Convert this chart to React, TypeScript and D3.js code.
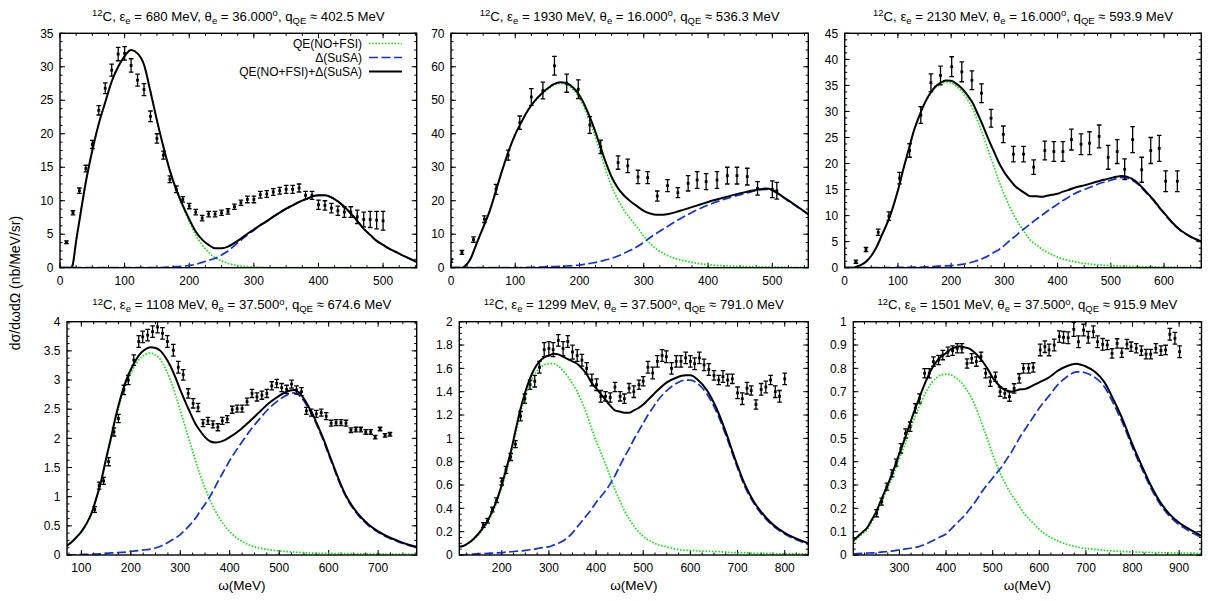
import React from 'react';
import * as d3 from 'd3';

// ---------- Titles ----------
const TITLE_E = ['680', '1930', '2130', '1108', '1299', '1501'];
const TITLE_THETA = ['36.000', '16.000', '16.000', '37.500', '37.500', '37.500'];
const TITLE_Q = ['402.5', '536.3', '593.9', '674.6', '791.0', '915.9'];
const LEGEND_LABELS = ['QE(NO+FSI)', 'Δ(SuSA)', 'QE(NO+FSI)+Δ(SuSA)'];
const Y_LABEL = 'dσ/dωdΩ (nb/MeV/sr)';
const X_LABEL = 'ω(MeV)';

// ---------- Panel 1 ----------
const P1_GRID = [0, 10, 18, 20, 25, 30, 40, 50, 60, 70, 80, 90, 100, 110, 120, 130, 140, 150, 160, 170, 180, 190, 200, 210, 220, 230, 240, 250, 260, 270, 280, 290, 300, 310, 320, 330, 340, 350, 360, 370, 380, 390, 400, 410, 420, 430, 440, 450, 460, 470, 480, 490, 500, 510, 520, 530, 540, 552];
const P1_QE = [0, 0, 0, 0.6, 4.0, 7.0, 12.8, 17.5, 21.5, 24.7, 27.8, 30.0, 31.6, 32.5, 32.0, 30.3, 26.3, 22.0, 18.0, 14.4, 11.5, 9.1, 6.9, 4.9, 3.4, 2.3, 1.5, 1.0, 0.65, 0.4, 0.25, 0.17, 0.1, 0.07, 0.05, 0.03, 0.02, 0.02, 0.01, 0.01, 0.01, 0.01, 0.01, 0, 0, 0, 0, 0, 0, 0, 0, 0, 0, 0, 0, 0, 0, 0];
const P1_DELTA = [0, 0, 0, 0, 0, 0, 0, 0, 0, 0, 0, 0, 0, 0, 0, 0, 0, 0, 0.05, 0.1, 0.15, 0.2, 0.35, 0.5, 0.8, 1.1, 1.4, 1.9, 2.5, 3.3, 4.1, 4.9, 5.6, 6.3, 6.9, 7.6, 8.2, 8.8, 9.3, 9.8, 10.2, 10.6, 10.8, 10.8, 10.5, 9.9, 9.1, 8.1, 7.0, 5.8, 4.9, 4.0, 3.4, 2.8, 2.35, 1.85, 1.4, 0.85];
const P1_DATA_W = [10, 20, 30, 40, 50, 60, 70, 80, 90, 100, 110, 120, 130, 140, 150, 160, 170, 180, 190, 200, 210, 220, 230, 240, 250, 260, 270, 280, 290, 300, 310, 320, 330, 340, 350, 360, 370, 380, 390, 400, 410, 420, 430, 440, 450, 460, 470, 480, 490, 500];
const P1_DATA_V = [3.8, 8.2, 11.5, 14.8, 18.4, 23.5, 26.8, 29.5, 31.9, 32.0, 30.2, 28.0, 26.6, 22.6, 19.3, 16.8, 13.2, 11.7, 10.2, 9.2, 8.3, 7.4, 8.0, 8.0, 8.2, 8.4, 9.1, 9.7, 10.2, 10.2, 10.9, 11.0, 11.3, 11.5, 11.7, 11.7, 11.9, 10.8, 10.8, 9.4, 9.3, 8.9, 8.5, 8.3, 8.3, 7.6, 7.2, 7.2, 7.1, 7.0];
const P1_DATA_E = [0.2, 0.3, 0.4, 0.5, 0.6, 0.7, 0.8, 0.9, 1.0, 1.0, 1.0, 0.9, 0.9, 0.8, 0.7, 0.6, 0.5, 0.5, 0.4, 0.4, 0.4, 0.4, 0.4, 0.4, 0.4, 0.4, 0.4, 0.4, 0.5, 0.5, 0.5, 0.5, 0.5, 0.5, 0.6, 0.6, 0.6, 0.6, 0.6, 0.7, 0.7, 0.7, 0.7, 0.8, 0.8, 1.0, 1.1, 1.2, 1.3, 1.4];

// ---------- Panel 2 ----------
const P2_GRID = [0, 10, 18, 20, 30, 40, 50, 60, 70, 80, 90, 100, 110, 120, 130, 140, 150, 160, 170, 180, 190, 200, 210, 220, 230, 240, 250, 260, 270, 280, 290, 300, 310, 320, 330, 340, 350, 360, 370, 380, 390, 400, 420, 440, 460, 480, 490, 500, 510, 520, 530, 540, 556];
const P2_QE = [0, 0, 0, 0.2, 2.5, 7.3, 12.0, 16.8, 23.0, 29.3, 35.0, 39.8, 43.6, 47.0, 49.6, 51.6, 53.2, 54.5, 55.0, 54.6, 53.2, 50.6, 46.6, 41.6, 35.8, 29.6, 24.3, 20.2, 17.0, 14.4, 12.0, 9.4, 7.2, 5.5, 4.3, 3.4, 2.7, 2.2, 1.8, 1.4, 1.1, 0.9, 0.6, 0.45, 0.35, 0.25, 0.22, 0.2, 0.17, 0.15, 0.13, 0.12, 0.1];
const P2_DELTA = [0, 0, 0, 0, 0, 0, 0, 0, 0, 0, 0, 0, 0.05, 0.1, 0.15, 0.2, 0.3, 0.35, 0.4, 0.5, 0.6, 0.8, 1.1, 1.4, 1.8, 2.3, 2.8, 3.5, 4.4, 5.3, 6.3, 7.6, 9.0, 10.3, 11.5, 12.7, 13.9, 15.0, 16.0, 17.0, 17.9, 18.7, 20.1, 21.3, 22.3, 23.2, 23.4, 23.0, 21.9, 20.6, 19.3, 18.0, 15.9];
const P2_DATA_W = [0, 17, 35, 52, 70, 89, 107, 125, 143, 161, 180, 198, 216, 233, 260, 275, 291, 306, 321, 337, 353, 369, 383, 397, 414, 430, 445, 461, 477, 500, 507];
const P2_DATA_V = [2.1, 4.6, 8.4, 14.5, 23.4, 33.6, 43.3, 51.0, 52.9, 60.3, 55.1, 53.3, 42.6, 36.1, 31.4, 30.4, 27.1, 26.9, 21.4, 24.5, 22.4, 25.2, 26.2, 25.7, 26.2, 27.5, 27.5, 27.2, 23.7, 23.4, 23.0];
const P2_DATA_E = [0.5, 0.6, 0.8, 1.0, 1.5, 1.5, 2.0, 2.5, 2.5, 2.8, 2.7, 2.8, 2.5, 2.0, 2.0, 2.0, 2.0, 1.8, 1.5, 1.8, 1.5, 2.3, 2.5, 2.4, 2.5, 2.5, 2.5, 2.5, 2.0, 2.5, 2.5];

// ---------- Panel 3 ----------
const P3_GRID = [0, 10, 17, 20, 30, 40, 50, 60, 70, 80, 90, 100, 110, 120, 130, 140, 150, 160, 170, 180, 190, 200, 210, 220, 230, 240, 250, 260, 270, 280, 290, 300, 310, 320, 330, 340, 350, 360, 370, 380, 390, 400, 410, 420, 430, 440, 450, 460, 470, 480, 490, 500, 510, 520, 530, 540, 550, 560, 570, 580, 590, 600, 610, 620, 630, 640, 650, 660, 670];
const P3_QE = [0, 0, 0, 0.1, 0.5, 1.15, 2.3, 4.0, 6.3, 8.6, 11.4, 14.8, 18.8, 22.5, 26.2, 29.0, 31.4, 33.2, 34.5, 35.2, 35.6, 35.5, 34.8, 33.8, 32.4, 30.6, 28.1, 25.4, 22.4, 19.5, 16.6, 14.0, 11.7, 9.7, 8.0, 6.5, 5.2, 4.4, 3.6, 3.0, 2.5, 2.0, 1.7, 1.4, 1.2, 1.0, 0.8, 0.7, 0.6, 0.5, 0.45, 0.4, 0.35, 0.3, 0.28, 0.25, 0.22, 0.2, 0.18, 0.15, 0.13, 0.12, 0.1, 0.09, 0.08, 0.07, 0.07, 0.06, 0.06];
const P3_DELTA = [0, 0, 0, 0, 0, 0, 0, 0, 0, 0, 0, 0.05, 0.07, 0.08, 0.1, 0.12, 0.15, 0.2, 0.25, 0.3, 0.35, 0.4, 0.5, 0.65, 0.8, 1.1, 1.4, 1.8, 2.3, 2.9, 3.5, 4.3, 5.2, 6.0, 6.9, 7.7, 8.5, 9.3, 10.0, 10.8, 11.5, 12.2, 12.9, 13.5, 14.1, 14.6, 15.0, 15.4, 15.8, 16.2, 16.5, 16.8, 17.1, 17.3, 17.2, 16.8, 16.1, 15.1, 14.0, 12.9, 11.6, 10.4, 9.2, 8.1, 7.2, 6.5, 5.9, 5.4, 5.0];
const P3_DATA_W = [21, 40, 63, 83, 103, 122, 143, 162, 180, 201, 220, 239, 257, 275, 298, 317, 336, 355, 376, 393, 410, 426, 444, 460, 478, 495, 512, 526, 541, 558, 575, 591, 603, 625];
const P3_DATA_V = [1.15, 3.5, 6.8, 9.9, 17.2, 22.5, 29.3, 35.5, 36.9, 38.6, 37.6, 36.0, 33.5, 28.7, 25.6, 21.8, 21.8, 19.3, 22.5, 22.3, 22.3, 24.6, 23.7, 23.9, 25.2, 21.2, 22.3, 18.9, 24.6, 18.8, 22.5, 22.9, 16.6, 16.6];
const P3_DATA_E = [0.3, 0.4, 0.6, 0.8, 1.1, 1.3, 1.6, 1.7, 1.8, 1.9, 1.9, 1.8, 1.8, 1.7, 1.6, 1.5, 1.5, 1.4, 1.8, 1.9, 1.9, 2.0, 2.0, 2.2, 2.2, 2.3, 2.3, 2.0, 2.5, 2.4, 2.5, 2.5, 2.0, 2.0];

// ---------- Panel 4 ----------
const P4_GRID = [71, 80, 90, 100, 110, 120, 130, 140, 150, 160, 170, 180, 190, 200, 210, 220, 230, 240, 250, 260, 270, 280, 290, 300, 310, 320, 330, 340, 350, 360, 370, 380, 390, 400, 420, 440, 460, 480, 500, 520, 530, 540, 550, 560, 570, 580, 590, 600, 610, 620, 630, 640, 660, 680, 700, 720, 740, 760, 778];
const P4_QE = [0.16, 0.22, 0.30, 0.39, 0.52, 0.69, 0.95, 1.25, 1.62, 1.98, 2.35, 2.67, 2.93, 3.12, 3.27, 3.38, 3.44, 3.46, 3.43, 3.35, 3.2, 3.0, 2.76, 2.48, 2.2, 1.92, 1.64, 1.38, 1.15, 0.95, 0.77, 0.62, 0.5, 0.4, 0.26, 0.17, 0.12, 0.09, 0.07, 0.055, 0.05, 0.045, 0.04, 0.035, 0.033, 0.03, 0.03, 0.028, 0.026, 0.025, 0.024, 0.023, 0.02, 0.018, 0.015, 0.013, 0.012, 0.011, 0.01];
const P4_DELTA = [0, 0, 0.005, 0.01, 0.012, 0.014, 0.016, 0.02, 0.03, 0.035, 0.04, 0.045, 0.05, 0.06, 0.07, 0.08, 0.09, 0.1, 0.12, 0.15, 0.19, 0.24, 0.29, 0.35, 0.43, 0.52, 0.62, 0.75, 0.87, 1.0, 1.16, 1.32, 1.47, 1.62, 1.88, 2.12, 2.33, 2.52, 2.66, 2.76, 2.78, 2.74, 2.64, 2.5, 2.34, 2.15, 1.95, 1.72, 1.5, 1.28, 1.08, 0.92, 0.68, 0.51, 0.39, 0.3, 0.23, 0.17, 0.13];
const P4_DATA_W = [127, 136, 145, 155, 166, 175, 186, 195, 206, 216, 224, 234, 244, 254, 264, 274, 286, 296, 306, 316, 326, 336, 346, 356, 366, 376, 385, 395, 405, 415, 425, 435, 445, 455, 465, 475, 485, 495, 505, 515, 525, 535, 545, 555, 565, 575, 585, 595, 605, 615, 625, 635, 645, 655, 665, 675, 685, 694, 704, 714, 724];
const P4_DATA_V = [0.78, 1.19, 1.27, 1.6, 2.11, 2.34, 2.83, 3.0, 3.34, 3.66, 3.74, 3.77, 3.83, 3.91, 3.8, 3.66, 3.51, 3.22, 3.09, 2.77, 2.6, 2.53, 2.26, 2.3, 2.24, 2.19, 2.3, 2.33, 2.49, 2.51, 2.51, 2.63, 2.77, 2.71, 2.74, 2.77, 2.9, 2.94, 2.87, 2.84, 2.93, 2.83, 2.8, 2.47, 2.44, 2.42, 2.44, 2.38, 2.26, 2.27, 2.27, 2.26, 2.14, 2.15, 2.15, 2.11, 2.11, 2.02, 2.16, 2.05, 2.07];
const P4_DATA_E = [0.05, 0.06, 0.06, 0.07, 0.07, 0.07, 0.08, 0.08, 0.09, 0.1, 0.1, 0.1, 0.1, 0.1, 0.1, 0.1, 0.1, 0.1, 0.09, 0.08, 0.08, 0.07, 0.06, 0.06, 0.06, 0.06, 0.06, 0.06, 0.06, 0.06, 0.06, 0.06, 0.07, 0.07, 0.07, 0.07, 0.07, 0.07, 0.07, 0.07, 0.07, 0.07, 0.07, 0.06, 0.06, 0.06, 0.06, 0.06, 0.05, 0.05, 0.05, 0.05, 0.04, 0.04, 0.04, 0.04, 0.04, 0.03, 0.03, 0.03, 0.03];

// ---------- Panel 5 ----------
const P5_GRID = [110, 120, 130, 140, 150, 160, 170, 180, 190, 200, 210, 220, 230, 240, 250, 260, 270, 280, 290, 300, 310, 320, 330, 340, 350, 360, 370, 380, 390, 400, 410, 420, 430, 440, 450, 460, 470, 480, 490, 500, 510, 520, 530, 550, 570, 590, 600, 615, 635, 655, 675, 695, 715, 735, 755, 775, 800, 825, 850];
const P5_QE = [0.07, 0.08, 0.1, 0.13, 0.17, 0.22, 0.28, 0.36, 0.46, 0.58, 0.72, 0.87, 1.05, 1.22, 1.36, 1.47, 1.55, 1.6, 1.63, 1.64, 1.64, 1.62, 1.58, 1.53, 1.47, 1.4, 1.31, 1.21, 1.09, 0.98, 0.88, 0.78, 0.67, 0.56, 0.47, 0.38, 0.31, 0.25, 0.2, 0.16, 0.13, 0.11, 0.09, 0.07, 0.05, 0.04, 0.04, 0.035, 0.032, 0.03, 0.025, 0.02, 0.02, 0.015, 0.015, 0.012, 0.01, 0.01, 0.01];
const P5_DELTA = [0, 0, 0.005, 0.008, 0.01, 0.012, 0.014, 0.016, 0.018, 0.02, 0.025, 0.028, 0.032, 0.035, 0.04, 0.045, 0.05, 0.06, 0.065, 0.07, 0.085, 0.1, 0.12, 0.15, 0.19, 0.24, 0.29, 0.34, 0.39, 0.45, 0.5, 0.55, 0.61, 0.68, 0.76, 0.84, 0.91, 0.99, 1.06, 1.13, 1.2, 1.26, 1.32, 1.41, 1.47, 1.5, 1.5, 1.47, 1.38, 1.23, 1.03, 0.8, 0.59, 0.44, 0.33, 0.25, 0.18, 0.13, 0.09];
const P5_DATA_W = [161, 170, 180, 189, 200, 209, 219, 229, 240, 249, 260, 270, 280, 290, 300, 309, 320, 330, 340, 350, 360, 370, 380, 391, 401, 410, 420, 430, 440, 451, 460, 470, 480, 491, 500, 510, 520, 530, 540, 549, 560, 570, 580, 590, 600, 609, 619, 629, 639, 650, 660, 669, 679, 689, 700, 710, 720, 729, 739, 750, 760, 770, 780, 789, 800];
const P5_DATA_V = [0.257, 0.294, 0.39, 0.47, 0.63, 0.73, 0.84, 0.95, 1.19, 1.34, 1.46, 1.49, 1.61, 1.76, 1.77, 1.76, 1.84, 1.77, 1.83, 1.74, 1.71, 1.67, 1.6, 1.5, 1.46, 1.36, 1.36, 1.35, 1.44, 1.36, 1.34, 1.43, 1.4, 1.46, 1.49, 1.61, 1.56, 1.66, 1.71, 1.7, 1.6, 1.66, 1.66, 1.69, 1.66, 1.64, 1.69, 1.63, 1.59, 1.54, 1.5, 1.53, 1.5, 1.51, 1.39, 1.34, 1.43, 1.41, 1.29, 1.42, 1.44, 1.5, 1.4, 1.36, 1.51];
const P5_DATA_E = [0.02, 0.02, 0.02, 0.02, 0.03, 0.03, 0.03, 0.03, 0.04, 0.04, 0.04, 0.05, 0.05, 0.06, 0.06, 0.06, 0.05, 0.06, 0.05, 0.06, 0.05, 0.05, 0.05, 0.05, 0.05, 0.05, 0.04, 0.04, 0.04, 0.04, 0.04, 0.04, 0.05, 0.04, 0.04, 0.05, 0.05, 0.05, 0.05, 0.05, 0.05, 0.05, 0.05, 0.05, 0.05, 0.05, 0.05, 0.05, 0.05, 0.04, 0.04, 0.05, 0.05, 0.04, 0.05, 0.05, 0.05, 0.04, 0.04, 0.05, 0.05, 0.04, 0.05, 0.05, 0.05];

// ---------- Panel 6 ----------
const P6_GRID = [201, 210, 220, 230, 240, 250, 260, 270, 280, 290, 300, 310, 320, 330, 340, 350, 360, 370, 380, 390, 400, 410, 420, 430, 440, 450, 460, 470, 480, 490, 500, 510, 520, 530, 540, 550, 560, 570, 580, 590, 600, 620, 640, 660, 680, 690, 700, 720, 740, 760, 780, 800, 820, 840, 860, 880, 900, 920, 948];
const P6_QE = [0.057, 0.072, 0.09, 0.107, 0.14, 0.175, 0.22, 0.265, 0.31, 0.36, 0.415, 0.465, 0.52, 0.575, 0.625, 0.67, 0.71, 0.74, 0.76, 0.772, 0.775, 0.772, 0.76, 0.745, 0.72, 0.69, 0.65, 0.6, 0.545, 0.49, 0.43, 0.38, 0.335, 0.295, 0.26, 0.23, 0.2, 0.172, 0.15, 0.13, 0.11, 0.08, 0.06, 0.045, 0.035, 0.03, 0.028, 0.024, 0.02, 0.017, 0.015, 0.013, 0.012, 0.011, 0.01, 0.009, 0.008, 0.008, 0.007];
const P6_DELTA = [0.005, 0.006, 0.007, 0.008, 0.009, 0.01, 0.012, 0.014, 0.016, 0.019, 0.022, 0.025, 0.028, 0.031, 0.035, 0.042, 0.05, 0.06, 0.07, 0.08, 0.09, 0.11, 0.13, 0.15, 0.17, 0.195, 0.22, 0.25, 0.28, 0.305, 0.33, 0.355, 0.38, 0.41, 0.44, 0.475, 0.51, 0.54, 0.57, 0.6, 0.63, 0.68, 0.73, 0.765, 0.785, 0.785, 0.78, 0.76, 0.72, 0.645, 0.56, 0.46, 0.37, 0.285, 0.215, 0.165, 0.13, 0.105, 0.075];
const P6_DATA_W = [251, 262, 273, 284, 293, 303, 313, 323, 334, 343, 354, 364, 373, 384, 393, 404, 414, 424, 434, 445, 455, 465, 475, 485, 495, 506, 516, 526, 536, 546, 557, 566, 577, 587, 602, 612, 621, 632, 643, 652, 662, 674, 684, 695, 705, 716, 725, 736, 746, 756, 767, 777, 788, 797, 808, 819, 829, 839, 850, 861, 871, 880, 891, 901];
const P6_DATA_V = [0.179, 0.229, 0.293, 0.35, 0.396, 0.457, 0.521, 0.55, 0.629, 0.671, 0.779, 0.779, 0.829, 0.836, 0.857, 0.871, 0.876, 0.886, 0.886, 0.821, 0.843, 0.829, 0.85, 0.779, 0.743, 0.764, 0.7, 0.693, 0.679, 0.714, 0.757, 0.8, 0.8, 0.804, 0.879, 0.893, 0.879, 0.9, 0.936, 0.933, 0.931, 0.967, 0.914, 0.964, 0.933, 0.957, 0.914, 0.903, 0.9, 0.864, 0.907, 0.867, 0.904, 0.893, 0.886, 0.876, 0.861, 0.861, 0.886, 0.876, 0.879, 0.946, 0.929, 0.871];
const P6_DATA_E = [0.015, 0.015, 0.015, 0.015, 0.015, 0.02, 0.02, 0.02, 0.02, 0.02, 0.02, 0.02, 0.02, 0.02, 0.02, 0.02, 0.02, 0.02, 0.02, 0.02, 0.02, 0.02, 0.02, 0.02, 0.02, 0.02, 0.02, 0.02, 0.02, 0.02, 0.02, 0.02, 0.02, 0.02, 0.025, 0.025, 0.025, 0.025, 0.025, 0.025, 0.025, 0.03, 0.025, 0.025, 0.025, 0.025, 0.025, 0.025, 0.02, 0.02, 0.02, 0.02, 0.02, 0.02, 0.02, 0.02, 0.02, 0.02, 0.02, 0.02, 0.02, 0.025, 0.025, 0.025];

// ---------- Layout ----------
const TOP = { y0: 33.3, y1: 267.7 };
const BOT = { y0: 321.7, y1: 555 };

const PANELS = [
  { i: 0, x0: 60, x1: 416.7, ...TOP, xd: [0, 552], yd: [0, 35], xs: 100, ys: 5, grid: P1_GRID, qe: P1_QE, de: P1_DELTA, dw: P1_DATA_W, dv: P1_DATA_V, dE: P1_DATA_E },
  { i: 1, x0: 451, x1: 808.3, ...TOP, xd: [0, 556], yd: [0, 70], xs: 100, ys: 10, grid: P2_GRID, qe: P2_QE, de: P2_DELTA, dw: P2_DATA_W, dv: P2_DATA_V, dE: P2_DATA_E },
  { i: 2, x0: 844.7, x1: 1201.3, ...TOP, xd: [0, 670], yd: [0, 45], xs: 100, ys: 5, grid: P3_GRID, qe: P3_QE, de: P3_DELTA, dw: P3_DATA_W, dv: P3_DATA_V, dE: P3_DATA_E },
  { i: 3, x0: 67, x1: 416.7, ...BOT, xd: [71, 778], yd: [0, 4], xs: 100, ys: 0.5, grid: P4_GRID, qe: P4_QE, de: P4_DELTA, dw: P4_DATA_W, dv: P4_DATA_V, dE: P4_DATA_E },
  { i: 4, x0: 459.3, x1: 808.3, ...BOT, xd: [110, 850], yd: [0, 2], xs: 100, ys: 0.2, grid: P5_GRID, qe: P5_QE, de: P5_DELTA, dw: P5_DATA_W, dv: P5_DATA_V, dE: P5_DATA_E },
  { i: 5, x0: 853.3, x1: 1201.5, ...BOT, xd: [201, 948], yd: [0, 1], xs: 100, ys: 0.1, grid: P6_GRID, qe: P6_QE, de: P6_DELTA, dw: P6_DATA_W, dv: P6_DATA_V, dE: P6_DATA_E },
];

const FONT = 'Liberation Sans, Arial, Helvetica, sans-serif';
const GREEN = '#18e018';
const BLUE = '#1030e0';

function ticksBetween(lo: number, hi: number, step: number) {
  const out: number[] = [];
  const start = Math.ceil(lo / step - 1e-9);
  for (let k = start; k * step <= hi + 1e-9; k++) out.push(+(k * step).toFixed(6));
  return out;
}

function fmt(v: number) {
  return String(+v.toFixed(3));
}

function Panel({ p }: { p: any }) {
  const x = d3.scaleLinear().domain(p.xd).range([p.x0, p.x1]);
  const y = d3.scaleLinear().domain(p.yd).range([p.y1, p.y0]);
  const clipId = `clip${p.i}`;
  const line = d3.line<[number, number]>().x(d => x(d[0])).y(d => y(d[1])).curve(d3.curveMonotoneX);
  const qePts: [number, number][] = p.grid.map((w: number, k: number) => [w, p.qe[k]]);
  const dePts: [number, number][] = p.grid.map((w: number, k: number) => [w, p.de[k]]);
  const totPts: [number, number][] = p.grid.map((w: number, k: number) => [w, p.qe[k] + p.de[k]]);
  const xMaj = ticksBetween(p.xd[0], p.xd[1], p.xs);
  const xMin = ticksBetween(p.xd[0], p.xd[1], p.xs / 4);
  const yMaj = ticksBetween(p.yd[0], p.yd[1], p.ys);
  const yMin = ticksBetween(p.yd[0], p.yd[1], p.ys / 4);
  const L = 5, l = 2.5;
  const tc = (p.x0 + p.x1) / 2;
  const titleY = p.y0 - 12.5;
  const isBottom = p.i >= 3;
  return (
    <g>
      <defs>
        <clipPath id={clipId}>
          <rect x={p.x0} y={p.y0} width={p.x1 - p.x0} height={p.y1 - p.y0} />
        </clipPath>
      </defs>
      {/* title */}
      <text x={tc} y={titleY} textAnchor="middle" fontFamily={FONT} fontSize={13.2} fill="#000">
        <tspan fontSize={9.5} dy={-4.5}>12</tspan>
        <tspan dy={4.5}>C, ε</tspan>
        <tspan fontSize={9.5} dy={3}>e</tspan>
        <tspan dy={-3}>{` = ${TITLE_E[p.i]} MeV, θ`}</tspan>
        <tspan fontSize={9.5} dy={3}>e</tspan>
        <tspan dy={-3}>{` = ${TITLE_THETA[p.i]}`}</tspan>
        <tspan fontSize={9.5} dy={-4.5}>o</tspan>
        <tspan dy={4.5}>, q</tspan>
        <tspan fontSize={9.5} dy={3}>QE</tspan>
        <tspan dy={-3}>{` ≈ ${TITLE_Q[p.i]} MeV`}</tspan>
      </text>
      {/* ticks */}
      <g stroke="#000" strokeWidth={1}>
        {xMin.map(v => (
          <g key={'xm' + v}>
            <line x1={x(v)} x2={x(v)} y1={p.y1} y2={p.y1 - l} />
            <line x1={x(v)} x2={x(v)} y1={p.y0} y2={p.y0 + l} />
          </g>
        ))}
        {xMaj.map(v => (
          <g key={'xM' + v}>
            <line x1={x(v)} x2={x(v)} y1={p.y1} y2={p.y1 - L} />
            <line x1={x(v)} x2={x(v)} y1={p.y0} y2={p.y0 + L} />
          </g>
        ))}
        {yMin.map(v => (
          <g key={'ym' + v}>
            <line x1={p.x0} x2={p.x0 + l} y1={y(v)} y2={y(v)} />
            <line x1={p.x1} x2={p.x1 - l} y1={y(v)} y2={y(v)} />
          </g>
        ))}
        {yMaj.map(v => (
          <g key={'yM' + v}>
            <line x1={p.x0} x2={p.x0 + L} y1={y(v)} y2={y(v)} />
            <line x1={p.x1} x2={p.x1 - L} y1={y(v)} y2={y(v)} />
          </g>
        ))}
      </g>
      <g fontFamily={FONT} fontSize={12} fill="#000">
        {xMaj.map(v => (
          <text key={'xl' + v} x={x(v)} y={p.y1 + 16.8} textAnchor="middle">{fmt(v)}</text>
        ))}
        {yMaj.map(v => (
          <text key={'yl' + v} x={p.x0 - 6.5} y={y(v) + 4.2} textAnchor="end">{fmt(v)}</text>
        ))}
      </g>
      {isBottom && (
        <text x={tc} y={590} textAnchor="middle" fontFamily={FONT} fontSize={13.5}>{X_LABEL}</text>
      )}
      {/* curves */}
      <g clipPath={`url(#${clipId})`} fill="none">
        <path d={line(qePts) || ''} stroke={GREEN} strokeWidth={1.7} strokeDasharray="1.6,1.6" />
        <path d={line(dePts) || ''} stroke={BLUE} strokeWidth={1.7} strokeDasharray="9,3.5" />
        <path d={line(totPts) || ''} stroke="#000" strokeWidth={2} />
      </g>
      {/* data */}
      <g stroke="#000" strokeWidth={1.3} clipPath={`url(#${clipId})`}>
        {p.dw.map((w: number, k: number) => {
          const cx = x(w);
          const yh = y(p.dv[k] + p.dE[k]);
          const yl = y(p.dv[k] - p.dE[k]);
          const cy = y(p.dv[k]);
          return (
            <g key={'d' + k}>
              <line x1={cx} x2={cx} y1={yh} y2={yl} />
              <line x1={cx - 2.3} x2={cx + 2.3} y1={yh} y2={yh} />
              <line x1={cx - 2.3} x2={cx + 2.3} y1={yl} y2={yl} />
              <rect x={cx - 1.4} y={cy - 1.4} width={2.8} height={2.8} fill="#000" stroke="none" />
            </g>
          );
        })}
      </g>
      {/* frame */}
      <rect x={p.x0} y={p.y0} width={p.x1 - p.x0} height={p.y1 - p.y0} fill="none" stroke="#000" strokeWidth={1.4} />
      {p.i === 0 && (
        <g fontFamily={FONT} fontSize={12}>
          {LEGEND_LABELS.map((lab, k) => {
            const ly = 43.5 + k * 14;
            const st = k === 0 ? { stroke: GREEN, dash: '1.6,1.6', w: 1.7 } : k === 1 ? { stroke: BLUE, dash: '9,3.5', w: 1.7 } : { stroke: '#000', dash: undefined, w: 2 };
            return (
              <g key={'lg' + k}>
                <text x={362} y={ly + 4.2} textAnchor="end">{lab}</text>
                <line x1={369} x2={402} y1={ly} y2={ly} stroke={st.stroke} strokeWidth={st.w} strokeDasharray={st.dash} />
              </g>
            );
          })}
        </g>
      )}
    </g>
  );
}

export default function App() {
  return (
    <svg width={1208} height={601} style={{ position: 'absolute', left: 0, top: 0, background: '#fff' }}>
      <rect x={0} y={0} width={1208} height={601} fill="#fff" />
      {PANELS.map(p => <Panel key={p.i} p={p} />)}
      <text transform="translate(20,283) rotate(-90)" textAnchor="middle" fontFamily={FONT} fontSize={14}>{Y_LABEL}</text>
    </svg>
  );
}
